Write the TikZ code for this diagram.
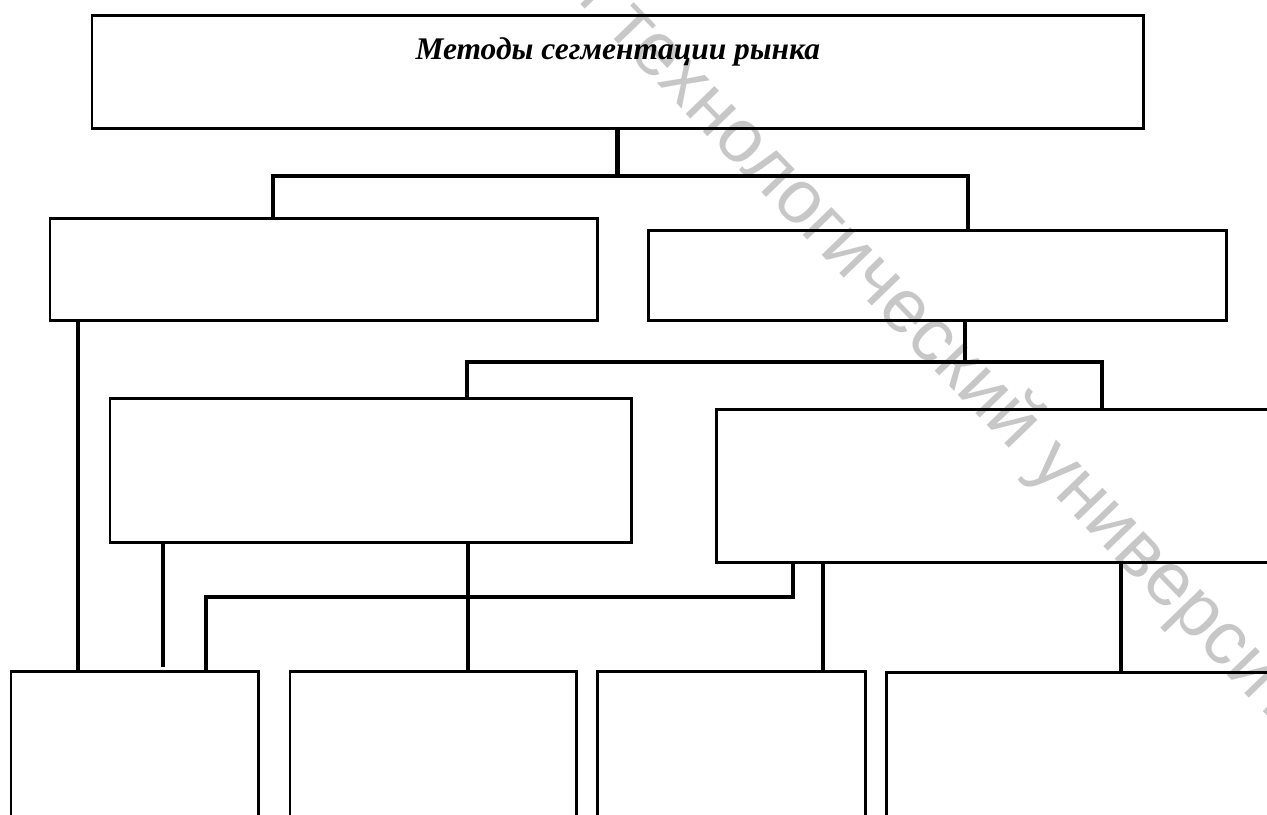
\documentclass[tikz,border=0pt]{standalone}
\usepackage{fontspec}
\setmainfont{Liberation Serif}
\newfontfamily\znakfont{Liberation Sans}

\begin{document}
\begin{tikzpicture}[x=0.01cm, y=-0.01cm]
\tikzset{ramka/.style={draw, line width=0.85pt, inner sep=0pt, outer sep=0pt, anchor=north west},
  svyaz/.style={line width=1.4pt},
  vodznak/.style={text=black!22, rotate=-46, inner sep=0pt, font=\znakfont\fontsize{21.5pt}{24pt}\selectfont}}
\useasboundingbox (0,0) rectangle (1267,814);
\clip (0,0) rectangle (1267,814);
% watermark
\node[vodznak, anchor=base west] (znak) at (604,29) {технологический университет};
\node[vodznak, anchor=base east] (znak0) at ([xshift=-4.2pt, yshift=4.35pt]znak.base west) {исследовательский};
% boxes
\node[ramka, minimum width=10.51cm, minimum height=1.13cm] (metod) at (92,15) {};
\node[anchor=base, font=\bfseries\itshape\fontsize{8.95pt}{10pt}\selectfont] (nazv) at ([yshift=-0.445cm]metod.north) {Методы сегментации рынка};
\node[ramka, minimum width=5.47cm, minimum height=1.02cm] (grupA) at (50,218) {};
\node[ramka, minimum width=5.78cm, minimum height=0.90cm] (grupB) at (648,230) {};
\node[ramka, minimum width=5.21cm, minimum height=1.44cm] (podA) at (110,398) {};
\node[ramka, minimum width=6.00cm, minimum height=1.53cm] (podB) at (716,409) {};
\node[ramka, minimum width=2.47cm, minimum height=2cm] (niz1) at (11,671) {};
\node[ramka, minimum width=2.86cm, minimum height=2cm] (niz2) at (290,671) {};
\node[ramka, minimum width=2.68cm, minimum height=2cm] (niz3) at (597,671) {};
\node[ramka, minimum width=4.50cm, minimum height=2cm] (niz4) at (886,672) {};
% links
\coordinate (u1) at (273,176);
\coordinate (u2) at (968,176);
\coordinate (u3) at (467,362);
\coordinate (u4) at (1102,362);
\coordinate (u5) at (965,362);
\draw[svyaz] (metod.south) -- (metod.south |- u1);
\draw[svyaz] (grupA.north -| u1) -- (u1) -- (u2) -- (grupB.north -| u2);
\draw[svyaz] (grupB.south -| u5) -- (u5);
\draw[svyaz] (podA.north -| u3) -- (u3) -- (u4) -- (podB.north -| u4);
\coordinate (v1) at (78,600);
\coordinate (v2) at (163,667);
\coordinate (v3) at (468,600);
\coordinate (v4) at (823,600);
\coordinate (v5) at (1121,600);
\coordinate (w1) at (793,597);
\coordinate (w2) at (206,597);
\draw[svyaz] (grupA.south -| v1) -- (niz1.north -| v1);
\draw[svyaz] (podA.south -| v2) -- (v2);
\draw[svyaz] (podA.south -| v3) -- (niz2.north -| v3);
\draw[svyaz] (podB.south -| w1) -- (w1) -- (w2) -- (niz1.north -| w2);
\draw[svyaz] (podB.south -| v4) -- (niz3.north -| v4);
\draw[svyaz] (podB.south -| v5) -- (niz4.north -| v5);
\end{tikzpicture}
\end{document}
